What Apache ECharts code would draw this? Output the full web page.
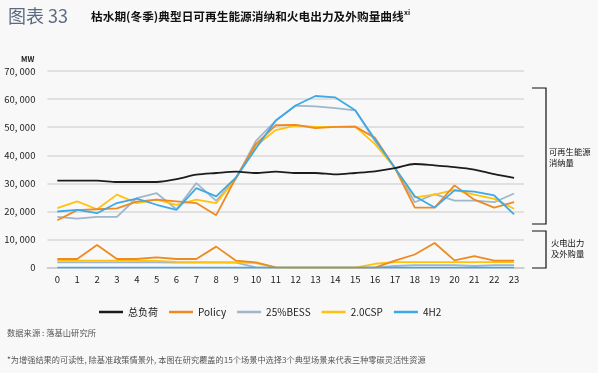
<!DOCTYPE html>
<html><head><meta charset="utf-8">
<script src="https://cdn.jsdelivr.net/npm/echarts@6/dist/echarts.min.js"></script>
<style>html,body{margin:0;padding:0;background:#f8f8f8;}#c{width:598px;height:373px;}</style>
</head><body><div id="c"></div>
<script>
const hours = ['0','1','2','3','4','5','6','7','8','9','10','11','12','13','14','15','16','17','18','19','20','21','22','23'];
const seriesNames = ['总负荷','Policy','25%BESS','2.0CSP','4H2'];
const yTicks = [0,10000,20000,30000,40000,50000,60000,70000];
// total load
const totalLoad = [31000,31000,31000,30500,30500,30500,31500,33100,33700,34200,33700,34200,33700,33700,33200,33700,34300,35400,36900,36400,35800,34900,33300,32000];
// renewable consumption
const rePolicy = [16900,20500,20800,21100,23500,24200,23600,23000,18700,32100,44000,50700,50800,49700,50100,50200,46200,35500,21400,21400,29300,24200,21400,23300];
const reBESS   = [18100,17500,18100,18100,24800,26500,20800,30100,23800,31800,45100,52300,57700,57400,56800,56000,45000,35500,23300,26200,23900,23900,23300,26400];
const reCSP    = [21200,23600,20800,26000,23000,24200,22400,24200,23000,31800,43400,49000,50600,50100,50100,50200,44000,35500,25000,26000,27700,26000,24500,21000];
const re4H2    = [20000,20600,19400,23000,24600,22400,20600,28300,25400,32100,42400,52400,57700,61100,60600,56000,45600,35500,25400,21400,27500,27100,25700,19000];
// thermal output & purchased power
const thPolicy = [3100,3100,8100,3100,3100,3700,3100,3100,7500,2500,1900,100,0,0,0,0,0,2500,4700,8800,2600,4100,2500,2500];
const thBESS   = [1900,1900,1900,1900,1900,1900,1800,1800,1800,1800,100,0,0,0,0,0,0,600,900,900,900,600,900,900];
const thCSP    = [2500,2500,2500,2500,2400,2400,2100,2000,2000,1900,1600,0,0,0,0,0,1400,2000,2000,2000,2000,2000,2000,2000];
const th4H2    = [0,0,0,0,0,0,0,0,0,0,0,0,0,0,0,0,0,0,0,0,0,0,0,0];

const colors = {'总负荷':'#1c1c1c','Policy':'#ee8a22','25%BESS':'#9fb6cc','2.0CSP':'#ffc20e','4H2':'#3ea9e6'};
const font = '"Noto Sans CJK SC","Noto Sans",sans-serif';

function line(name, data, z, smooth){
  return {name:name, type:'line', data:data, symbol:'none', smooth:smooth||false, z:z,
    lineStyle:{width:1.8, color:colors[name]}, itemStyle:{color:colors[name]}};
}

const chart = echarts.init(document.getElementById('c'), null, {renderer:'canvas'});
chart.setOption({
  backgroundColor:'#f8f8f8',
  animation:false,
  textStyle:{fontFamily:font},
  grid:{left:47.4, right:74, top:71, bottom:105.3, containLabel:false},
  xAxis:{type:'category', data:hours, boundaryGap:true,
    axisLine:{lineStyle:{color:'#c8c8c8', width:1.5}},
    axisTick:{alignWithLabel:true, length:3, lineStyle:{color:'#c8c8c8'}},
    axisLabel:{color:'#222', fontSize:9.5, margin:7, fontFamily:font}},
  yAxis:{type:'value', min:0, max:70000, interval:10000,
    axisLine:{show:false}, axisTick:{show:false},
    axisLabel:{color:'#222', fontSize:9.5, margin:12, fontFamily:font,
      formatter:function(v){return v===0?'0':(v/1000)+', 000';}},
    splitLine:{lineStyle:{color:'#d9d9d9', width:1.5}}},
  legend:{data:seriesNames, bottom:51, left:94, icon:'rect', itemWidth:24, itemHeight:2.5, itemGap:11,
    textStyle:{color:'#222', fontSize:10, fontFamily:font, padding:[0,0,0,0]}},
  series:[
    line('25%BESS', thBESS, 2), line('2.0CSP', thCSP, 3), line('Policy', thPolicy, 4), line('4H2', th4H2, 5),
    line('25%BESS', reBESS, 2), line('2.0CSP', reCSP, 3), line('Policy', rePolicy, 4), line('4H2', re4H2, 5),
    line('总负荷', totalLoad, 6, 0.3)
  ],
  graphic:[
    {type:'text', left:8, top:7, style:{text:'图表 33', fill:'#5a6a80', font:'18px '+font}},
    {type:'text', left:91, top:11, style:{text:'枯水期(冬季)典型日可再生能源消纳和火电出力及外购量曲线', fill:'#111', font:'bold 11.7px '+font}},
    {type:'text', left:404, top:9, style:{text:'xi', fill:'#111', font:'bold 7px '+font}},
    {type:'text', left:21, top:55, style:{text:'MW', fill:'#222', font:'bold 7.5px '+font}},
    {type:'polyline', shape:{points:[[532,88],[546,88],[546,224],[532,224]]}, style:{stroke:'#111', lineWidth:1.2, fill:null}},
    {type:'polyline', shape:{points:[[532,231],[546,231],[546,268],[532,268]]}, style:{stroke:'#111', lineWidth:1.2, fill:null}},
    {type:'text', left:549, top:146, style:{text:'可再生能源\n消纳量', fill:'#111', font:'8.3px '+font, lineHeight:11}},
    {type:'text', left:551, top:237, style:{text:'火电出力\n及外购量', fill:'#111', font:'8.3px '+font, lineHeight:11}},
    {type:'text', left:7, top:329, style:{text:'数据来源 : 落基山研究所', fill:'#555', font:'8.3px '+font}},
    {type:'text', left:7, top:356, style:{text:'*为增强结果的可读性, 除基准政策情景外, 本图在研究覆盖的15个场景中选择3个典型场景来代表三种零碳灵活性资源', fill:'#555', font:'8.2px '+font}}
  ]
});
</script></body></html>
